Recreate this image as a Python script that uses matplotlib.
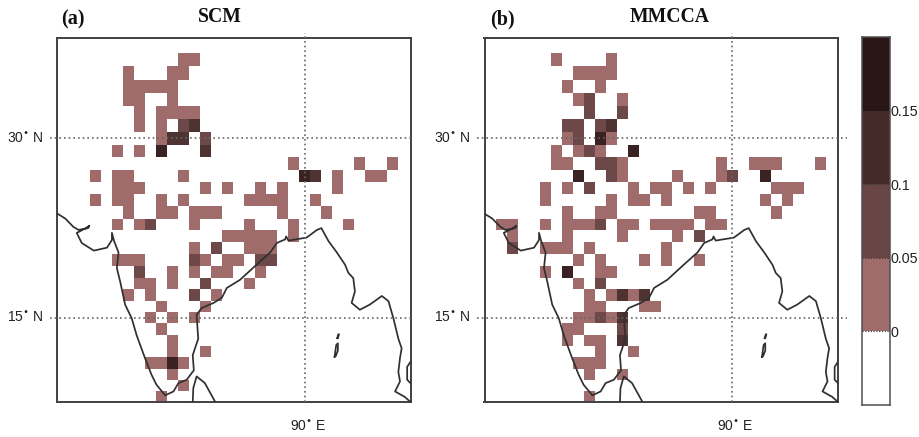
import numpy as np
import matplotlib
matplotlib.use("Agg")
import matplotlib.pyplot as plt
from matplotlib.colors import BoundaryNorm, ListedColormap

W, H = 920, 437
LEVELS = [-0.05, 0, 0.05, 0.1, 0.15, 0.2]
COLORS = ["#ffffff", "#a06b6b", "#694545", "#452a2a", "#2b1616"]
MAP_COLORS = ["#ffffff", "#a06b6b", "#6c4848", "#4f3333", "#3b2222"]
CLASS_VALUE = [np.nan, 0.025, 0.075, 0.125, 0.175]

# grid column n is the 1 degree cell centred on longitude 68 + n
LON0 = 68
LONS_EDGE = np.arange(67.5, 100.51, 1.0)
LATS_EDGE = np.arange(7.5, 37.51, 1.0)

scm_cells = {
    36: [11, 12], 35: [6, 10, 11], 34: [6, 7, 8, 9, 10], 33: [6, 7, 10],
    32: [7, 9, 10, 11, 12], 31: [7, 9, 11, 12], 30: [9, 10, 11, 13],
    29: [5, 7, 9, 13], 28: [21, 27, 30], 27: [3, 5, 6, 11, 22, 23, 25, 28, 29],
    26: [5, 6, 7, 13, 15, 18, 20, 25], 25: [3, 5, 6, 9, 11, 17, 18, 19, 20, 23],
    24: [6, 9, 10, 12, 13, 14, 20, 24], 23: [5, 7, 8, 12, 17, 21, 26],
    22: [15, 16, 17, 18, 19, 21], 21: [12, 14, 17, 18, 19],
    20: [5, 6, 7, 12, 13, 15, 16, 18, 19], 19: [7, 10, 12, 14, 15, 18],
    18: [7, 8, 10, 13, 17], 17: [6, 8, 12, 14], 16: [9, 13], 15: [8, 10, 12],
    14: [9], 13: [10], 12: [10, 13], 11: [8, 9, 10, 11], 10: [10], 9: [11], 8: [9],
}
scm_dark = [
    (31, 11, 2), (31, 12, 3), (30, 10, 3), (30, 11, 3), (30, 13, 2), (29, 9, 4),
    (29, 13, 3), (27, 22, 4), (27, 23, 3), (23, 8, 2), (21, 14, 2), (20, 12, 2),
    (20, 18, 2), (20, 19, 2), (19, 7, 2), (18, 13, 2), (17, 12, 2), (11, 10, 4),
]
mmcca_cells = {
    36: [6, 11], 35: [8, 9, 10, 11], 34: [7, 10], 33: [8, 9, 12], 32: [9, 12],
    31: [7, 8, 10, 11], 30: [7, 8, 10, 11], 29: [6, 8, 9, 10, 13],
    28: [6, 7, 10, 11, 12, 21, 24, 25, 26, 30], 27: [8, 11, 12, 17, 21, 22, 25],
    26: [5, 7, 9, 13, 15, 16, 18, 20, 26, 27, 28], 25: [5, 11, 13, 14, 16, 25, 27],
    24: [7, 10, 11, 19, 20, 26], 23: [1, 2, 5, 7, 8, 9, 10, 12, 13, 15, 16, 17, 18, 20, 21],
    22: [2, 7, 12, 17, 19], 21: [2, 5, 6, 7, 9, 16], 20: [8, 10, 14, 16, 19],
    19: [5, 7, 10, 11], 18: [8, 10], 17: [9, 11, 12, 13, 14], 16: [9, 10, 14, 15],
    15: [8, 9, 10, 11, 12], 14: [7, 8, 12], 13: [7, 9, 10, 12], 12: [10, 13],
    11: [8, 9, 10], 10: [9, 12], 8: [9],
}
mmcca_dark = [
    (33, 9, 2), (32, 9, 2), (32, 12, 2), (31, 7, 2), (31, 8, 2), (31, 10, 2),
    (31, 11, 3), (30, 8, 2), (30, 10, 4), (29, 9, 2), (29, 13, 4), (28, 10, 2),
    (28, 11, 2), (27, 8, 4), (27, 11, 2), (27, 22, 2), (27, 25, 4), (26, 9, 2),
    (23, 10, 2), (22, 19, 2), (21, 2, 2), (19, 7, 4), (18, 10, 2), (17, 12, 3),
    (17, 14, 3), (15, 10, 2), (15, 12, 3), (14, 12, 2), (13, 12, 3),
]

coast_lon = [67.5, 68.2, 68.95, 69.4, 70.3, 70.4, 70.0, 69.25, 69.7, 70.8, 72.0, 72.45,
             72.45, 72.65, 73.05, 72.9, 73.2, 73.65, 74.25, 74.7, 75.45, 76.05, 76.5, 77.3,
             78.05, 78.5, 79.25, 79.9, 79.8, 80.3, 80.15, 80.6, 81.7, 82.45, 82.9, 84.1,
             85.6, 86.85, 87.45, 88.2, 88.3, 88.5, 90.15, 91.1, 91.5, 92.15, 92.9, 93.65,
             93.95, 94.4, 94.55, 94.25, 95.0, 95.9, 97.0, 97.6, 98.05, 98.5, 98.8, 98.65,
             98.5, 98.65, 98.2, 99.1, 99.6]
coast_lat = [23.9, 23.5, 22.8, 22.55, 22.7, 22.9, 22.65, 22.3, 21.45, 20.8, 21.05, 21.7,
             22.3, 21.6, 20.65, 19.3, 18.15, 16.15, 14.95, 13.45, 11.45, 9.95, 9.05, 8.1,
             8.45, 9.2, 9.5, 10.35, 11.7, 13.15, 15.25, 15.85, 16.3, 16.75, 17.6, 18.3,
             19.6, 20.65, 21.45, 21.75, 22.0, 21.65, 21.9, 22.55, 22.7, 21.6, 20.65, 19.6,
             18.9, 18.45, 17.3, 16.3, 15.7, 16.15, 16.9, 16.45, 14.95, 13.15, 12.3, 11.45,
             10.2, 9.35, 8.45, 7.95, 7.5]
lanka_lon = [79.8, 79.85, 80.15, 80.9, 81.85]
lanka_lat = [7.5, 8.75, 9.8, 9.2, 7.5]
malay_lon = [99.6, 99.3, 99.3, 99.6]
malay_lat = [11.1, 10.65, 9.5, 9.2]
isle1_lon = [92.95, 93.05, 93.1, 93.0, 92.95]
isle1_lat = [13.2, 13.55, 13.55, 13.2, 13.2]
isle2_lon = [92.7, 92.85, 93.0, 93.0, 92.8, 92.7]
isle2_lat = [11.55, 12.6, 12.75, 12.1, 11.6, 11.55]

PANELS = [("(a)", "SCM", scm_cells, scm_dark, 57.5, 411.0, 61, 219.5),
          ("(b)", "MMCCA", mmcca_cells, mmcca_dark, 484.5, 838.5, 490, 669.7)]
CBAR_TICKS = [0, 0.05, 0.1, 0.15]
CBAR_LABELS = ["0", "0.05", "0.1", "0.15"]
SANS = "Liberation Sans"
SERIF = "Liberation Serif"
TOP, BOTTOM = 37.5, 402.0
EDGE = "#404040"


def merc(lat):
    return np.degrees(np.log(np.tan(np.pi / 4 + np.radians(np.asarray(lat, float)) / 2)))


def imerc(y):
    return np.degrees(2 * np.arctan(np.exp(np.radians(np.asarray(y, float)))) - np.pi / 2)


def grid_from(cells, dark):
    z = np.full((len(LATS_EDGE) - 1, len(LONS_EDGE) - 1), np.nan)
    for lat, cols in cells.items():
        for c in cols:
            z[lat - 8, c] = CLASS_VALUE[1]
    for lat, c, k in dark:
        z[lat - 8, c] = CLASS_VALUE[k]
    return z


fig = plt.figure(figsize=(W / 100, H / 100), dpi=100)
cmap = ListedColormap(COLORS)
map_cmap = ListedColormap(MAP_COLORS)
norm = BoundaryNorm(LEVELS, cmap.N)

for tag, title, cells, dark, left, right, tag_x, title_x in PANELS:
    ax = fig.add_axes([left / W, 1 - BOTTOM / H, (right - left) / W, (BOTTOM - TOP) / H])
    ax.set_yscale("function", functions=(merc, imerc))
    ax.pcolormesh(LONS_EDGE, LATS_EDGE, grid_from(cells, dark), cmap=map_cmap, norm=norm, zorder=1)
    ax.set_xlim(67.5, 99.65)
    ax.set_ylim(7.5, 37.6)
    ax.set_xticks([])
    ax.set_yticks([])
    ax.minorticks_off()
    ax.tick_params(which="both", left=False, bottom=False, labelleft=False, labelbottom=False)
    for sp in ax.spines.values():
        sp.set_color(EDGE)
        sp.set_linewidth(1.4)
    for xs, ys in [(coast_lon, coast_lat), (lanka_lon, lanka_lat), (malay_lon, malay_lat),
                   (isle1_lon, isle1_lat), (isle2_lon, isle2_lat)]:
        ax.plot(xs, ys, color="#303030", lw=1.25, zorder=3)

    trans_y = ax.get_yaxis_transform()
    for lat, lab in [(30, "30$^{\\bullet}$ N"), (15, "15$^{\\bullet}$ N")]:
        xa = -7.5 / (right - left)
        xb = 1.0 if title == "SCM" else 1 + 9 / (right - left)
        ax.plot([xa, xb], [lat, lat], transform=trans_y, color="#666666", lw=1.2,
                ls=(0, (1, 1.8)), clip_on=False, zorder=4)
        fig.text((left - 14) / W, 1 - (H - ax.transData.transform((90, lat))[1]) / H,
                 lab, ha="right", va="center", fontsize=10, family=SANS, color="#222222")
    ax.plot([90, 90], [0, 1.012], transform=ax.get_xaxis_transform(), color="#666666", lw=1.2,
            ls=(0, (1, 1.8)), clip_on=False, zorder=4)
    x90 = ax.transData.transform((90, 15))[0]
    fig.text((x90 + 3.5) / W, 1 - 427 / H, "90$^{\\bullet}$ E", ha="center", va="center",
             fontsize=10, family=SANS, color="#222222")
    fig.text(tag_x / W, 1 - 19 / H, tag, ha="left", va="center", fontsize=14.5,
             family=SERIF, weight="bold", color="#111111")
    fig.text(title_x / W, 1 - 17.5 / H, title, ha="center", va="center", fontsize=14.2,
             family=SERIF, weight="bold", color="#111111")

cax = fig.add_axes([862 / W, 1 - 405 / H, 28 / W, 368 / H])
cax.pcolormesh([0, 1], LEVELS, np.array(LEVELS[:-1])[:, None] + 0.025, cmap=cmap, norm=norm)
cax.set_xticks([])
cax.set_ylim(LEVELS[0], LEVELS[-1])
cax.yaxis.tick_right()
cax.set_yticks(CBAR_TICKS)
cax.set_yticklabels(CBAR_LABELS, fontsize=10.3, family=SANS, color="#222222")
cax.tick_params(axis="y", length=0, pad=0.5)
for t in CBAR_TICKS:
    cax.axhline(t, color="#333333", lw=0.8, ls=(0, (1, 1.5)))
for sp in cax.spines.values():
    sp.set_color("#505050")
    sp.set_linewidth(1.1)

fig.savefig("out.png", dpi=100)
